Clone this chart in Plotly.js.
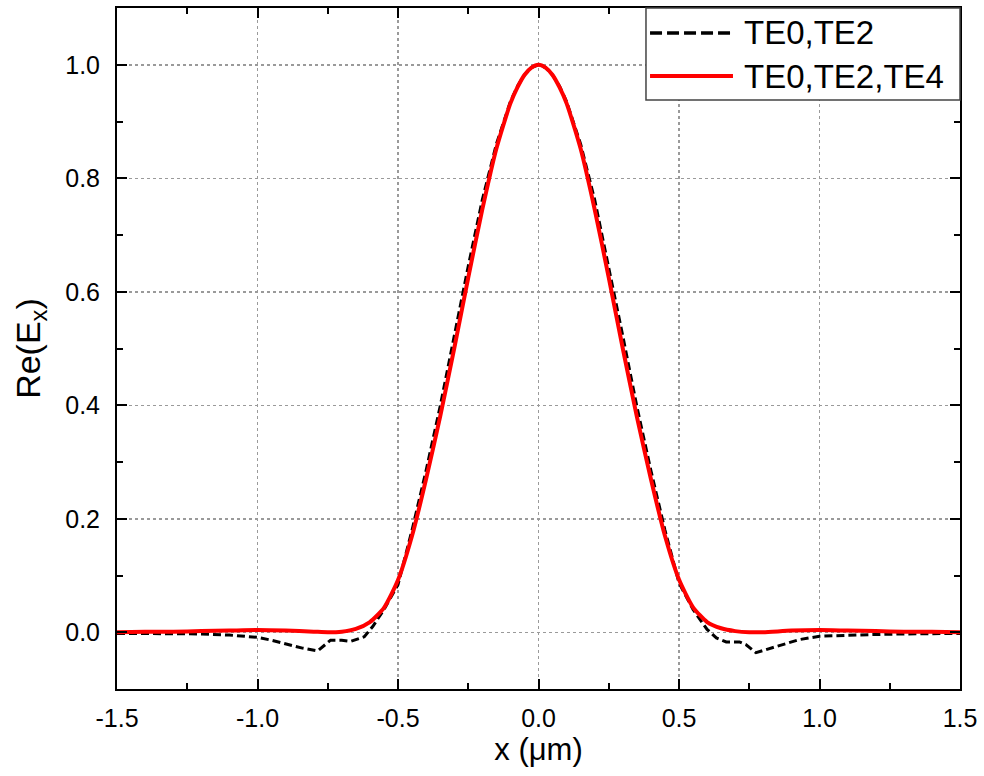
<!DOCTYPE html>
<html>
<head>
<meta charset="utf-8">
<script src="https://cdn.plot.ly/plotly-3.0.1.min.js"></script>
<style>html,body{margin:0;padding:0;background:#fff;}#chart{width:984px;height:776px;}</style>
</head>
<body>
<div id="chart"></div>
<script>
// Series names
const seriesNames = ['TE0,TE2', 'TE0,TE2,TE4'];

// TE0,TE2 (black dashed)
const xTE02 = [-1.5,-1.4,-1.3,-1.2,-1.1,-1.0,-0.95,-0.89,-0.84,-0.786,-0.74,-0.7,-0.668,-0.62,-0.59,-0.55,-0.5,-0.45,-0.4,-0.35,-0.3,-0.25,-0.2,-0.15,-0.1,-0.075,-0.05,-0.025,0,
  0.025,0.05,0.075,0.1,0.15,0.2,0.25,0.3,0.35,0.4,0.45,0.5,0.55,0.6,0.633,0.668,0.715,0.739,0.774,0.845,0.928,1.0,1.1,1.2,1.3,1.4,1.5];
const yTE02 = [-0.002,-0.002,-0.003,-0.003,-0.005,-0.009,-0.014,-0.022,-0.028,-0.033,-0.014,-0.014,-0.016,-0.008,0.01,0.04,0.084,0.18,0.285,0.398,0.522,0.645,0.762,0.86,0.935,0.962,0.982,0.995,1.0,
  0.995,0.982,0.962,0.935,0.86,0.762,0.645,0.522,0.398,0.285,0.18,0.087,0.04,0.005,-0.01,-0.017,-0.017,-0.022,-0.036,-0.025,-0.013,-0.007,-0.005,-0.004,-0.003,-0.003,-0.002];

// TE0,TE2,TE4 (red solid)
const xTE024 = [-1.5,-1.4,-1.3,-1.2,-1.1,-1.0,-0.9,-0.8,-0.75,-0.7,-0.65,-0.6,-0.55,-0.5,-0.45,-0.4,-0.35,-0.3,-0.25,-0.2,-0.15,-0.1,-0.075,-0.05,-0.025,0,
  0.025,0.05,0.075,0.1,0.15,0.2,0.25,0.3,0.35,0.4,0.45,0.5,0.55,0.6,0.65,0.7,0.75,0.8,0.9,1.0,1.1,1.2,1.3,1.4,1.5];
const yTE024 = [0.000,0.001,0.001,0.002,0.003,0.004,0.003,0.001,0.000,0.001,0.006,0.018,0.043,0.092,0.17,0.27,0.38,0.5,0.625,0.745,0.852,0.932,0.96,0.982,0.995,1.0,
  0.995,0.982,0.96,0.932,0.852,0.745,0.625,0.5,0.38,0.27,0.17,0.093,0.044,0.018,0.007,0.002,0.000,0.000,0.003,0.004,0.003,0.002,0.001,0.001,0.000];

// Tick labels
const xTickVals = [-1.5,-1.0,-0.5,0.0,0.5,1.0,1.5];
const xTickText = ['-1.5','-1.0','-0.5','0.0','0.5','1.0','1.5'];
const yTickVals = [0.0,0.2,0.4,0.6,0.8,1.0];
const yTickText = ['0.0','0.2','0.4','0.6','0.8','1.0'];

const FONT = 'Liberation Sans, Arial, sans-serif';

const traces = [
  {x: xTE02, y: yTE02, name: seriesNames[0], type: 'scatter', mode: 'lines',
   line: {color: '#000', width: 3, dash: '8px,4px'}},
  {x: xTE024, y: yTE024, name: seriesNames[1], type: 'scatter', mode: 'lines',
   line: {color: '#ff0000', width: 4, shape: 'spline', smoothing: 0.6}}
];

const axisCommon = {
  showline: true, linecolor: '#000', linewidth: 2, mirror: 'allticks',
  ticks: 'inside', ticklen: 10, tickwidth: 2, tickcolor: '#000',
  showgrid: true, gridcolor: '#9a9a9a', griddash: 'dot', gridwidth: 1.5,
  zeroline: false, tickmode: 'array',
  tickfont: {family: FONT, size: 25, color: '#000'}
};

const legX0 = 0.6275, legY0 = 0.865;
const layout = {
  width: 984, height: 776,
  margin: {l: 117, r: 24, t: 8, b: 87},
  paper_bgcolor: '#fff', plot_bgcolor: '#fff',
  showlegend: false,
  font: {family: FONT, color: '#000'},
  xaxis: Object.assign({}, axisCommon, {
    range: [-1.5, 1.5], tickvals: xTickVals, ticktext: xTickText,
    ticklabelstandoff: 6,
    minor: {tickmode: 'linear', tick0: 0, dtick: 0.25, ticks: 'inside', ticklen: 6, tickwidth: 2, tickcolor: '#000', showgrid: false},
    title: {text: 'x (\u03bcm)', font: {family: FONT, size: 31, color: '#000'}, standoff: 1}
  }),
  yaxis: Object.assign({}, axisCommon, {
    range: [-0.1, 1.1], tickvals: yTickVals, ticktext: yTickText,
    ticklabelstandoff: 10,
    minor: {tickmode: 'linear', tick0: 0, dtick: 0.1, ticks: 'inside', ticklen: 6, tickwidth: 2, tickcolor: '#000', showgrid: false},
    title: {text: 'Re(E<sub>x</sub>)', font: {family: FONT, size: 34, color: '#000'}, standoff: 14}
  }),
  shapes: [
    {type: 'rect', xref: 'paper', yref: 'paper', x0: legX0, x1: 1, y0: legY0, y1: 1,
     fillcolor: '#fff', line: {color: '#444', width: 1.5}, layer: 'above'},
    {type: 'line', xref: 'paper', yref: 'paper', x0: 0.6323, x1: 0.7307, y0: 0.9633, y1: 0.9633,
     line: {color: '#000', width: 3.5, dash: '12px,5px'}, layer: 'above'},
    {type: 'line', xref: 'paper', yref: 'paper', x0: 0.6323, x1: 0.7307, y0: 0.9001, y1: 0.9001,
     line: {color: '#ff0000', width: 4}, layer: 'above'}
  ],
  annotations: [
    {xref: 'paper', yref: 'paper', x: 0.741, y: 0.9633, xanchor: 'left', yanchor: 'middle',
     text: seriesNames[0], showarrow: false, font: {family: FONT, size: 33, color: '#000'}},
    {xref: 'paper', yref: 'paper', x: 0.741, y: 0.9001, xanchor: 'left', yanchor: 'middle',
     text: seriesNames[1], showarrow: false, font: {family: FONT, size: 33, color: '#000'}}
  ]
};

Plotly.newPlot('chart', traces, layout, {displayModeBar: false, staticPlot: true});
</script>
</body>
</html>
